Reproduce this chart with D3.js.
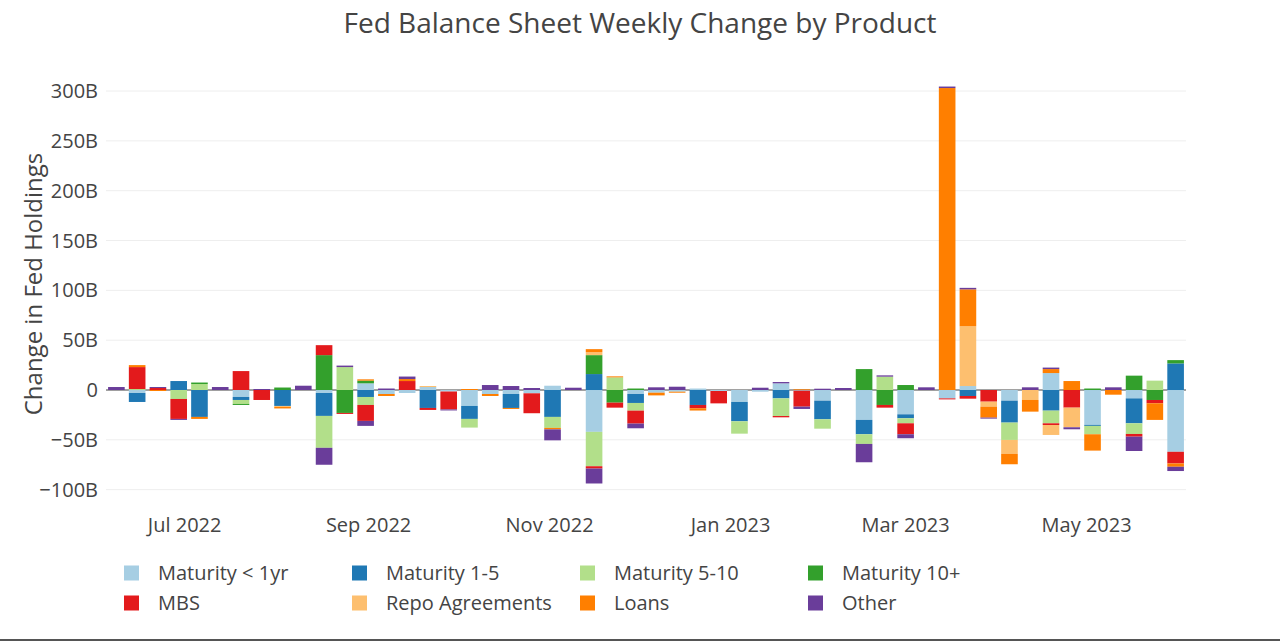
<!DOCTYPE html>
<html>
<head>
<meta charset="utf-8">
<script src="https://cdn.jsdelivr.net/npm/d3@7"></script>
<style>
  html, body { margin: 0; padding: 0; background: #fff; }
  svg { display: block; font-family: "Open Sans", sans-serif; }
</style>
</head>
<body>
<svg id="chart" width="1280" height="641"></svg>
<script>
// ---- DATA ----
const weeks = ["2022-06-08","2022-06-15","2022-06-22","2022-06-29","2022-07-06","2022-07-13","2022-07-20","2022-07-27",
  "2022-08-03","2022-08-10","2022-08-17","2022-08-24","2022-08-31","2022-09-07","2022-09-14","2022-09-21","2022-09-28",
  "2022-10-05","2022-10-12","2022-10-19","2022-10-26","2022-11-02","2022-11-09","2022-11-16","2022-11-23","2022-11-30",
  "2022-12-07","2022-12-14","2022-12-21","2022-12-28","2023-01-04","2023-01-11","2023-01-18","2023-01-25","2023-02-01",
  "2023-02-08","2023-02-15","2023-02-22","2023-03-01","2023-03-08","2023-03-15","2023-03-22","2023-03-29","2023-04-05",
  "2023-04-12","2023-04-19","2023-04-26","2023-05-03","2023-05-10","2023-05-17","2023-05-24","2023-05-31"];

const seriesNames = ["Maturity < 1yr","Maturity 1-5","Maturity 5-10","Maturity 10+","MBS","Repo Agreements","Loans","Other"];
const seriesColors = ["#a6cee3","#1f78b4","#b2df8a","#33a02c","#e31a1c","#fdbf6f","#ff7f00","#6a3d9a"];

const maturityLt1 = [0,-3,0,0,0,0,-7,0,0,0,-3,0,6.7,-4,-3,3,-1.5,-16,-4,-4,-3.3,4.3,0,-42,0,-4,
  -2.7,-1.7,1.5,-1,-12,-1.7,6.7,-0.7,-10.7,0,-30,0,-24.4,0,-8.4,4,0,-10.7,0,17,0,-35,0,-8.4,0,-62];
const maturity1to5 = [0,-9,0,9,-27,0,-3,0,-16,0,-23,0,-7,0,0,-18,0,-13,0,-14,0,-27,0,16,0,-9,
  0,0,-15,0,-19.4,0,-8.4,0,-18.7,0,-14.4,0,-4,0,0,-6,0,-22,0,-20.7,0,-1,0,-25,0,26.7];
const maturity5to10 = [0,1,0,-9,6,0,-4,0,0,0,-32,23,-8,0,0,0,0,-8.7,0,0,0,-11,0,-34.5,12.7,-7.7,
  0,0,0,0,-12.4,0,-17.7,0,-9.4,0,-9.7,13.4,-5,0,0,0,0,-17.4,0,-12.7,0,-8.4,0,-10.7,9.4,0];
const maturity10p = [0,0,0,0,1.5,0,-1,0,2.5,0,35,-23,2.7,0,0,0,0,0,0,0,0,0,0,19,-12.7,1.5,
  0,0,0,0,0,0,0,0,0,0,21,-15,5,0,0,0,0,0,0,0,0,1.5,0,14.4,-10,3.3];
const mbs = [0,22,2,-20,0,0,19,-10,0,0,10,-1,-16,0,9,-2,-18,0,0,0,-20,0,0,-2.3,-5,-13,
  0,0,-3.3,-12.4,0,0,-1.3,-16,0,0,0,-2.7,-11,0,-1,-2.7,-11.7,0,0,-1.7,-17.7,0,0,-2.7,-3.3,-11.7];
const repo = [0,0,0,0,0,0,0,0,-1,0,0,0,0,0,0,1,0,0,0,0,0,0,0,3,0,0,
  0,0,0,0,0,0,0,0,0,0,0,0,0,0,0,60,-5,-14,-10,-10,-19.7,0,0,0,0,0];
const loans = [0,2,-1,0,-2,0,0,0,-1.5,0,0,0,1.3,-2,2,0,0,1,-2,-1,0,-1.5,0,3,1,0,
  -2.7,-1,-2.3,0,0,0,0,0.7,0,0,0,0,0,0,303,37,-11,-10.4,-11.7,4,9,-16.4,-4.7,0,-16.7,-3.3];
const other = [3,0,1,-1,0,3,0,1,0,4.3,-17,1.5,-5,1.5,2.5,0,-1,0,5,4,2,-11,2.3,-15,0,-4.7,
  2.7,3.3,0,0,0,2.3,1.3,-2.3,1.3,2,-18.4,1.3,-4,2.7,1.5,1.5,-1,0,2.7,1.5,-2,0,2.7,-14.4,0,-4.3];

const yTickValues = [-100,-50,0,50,100,150,200,250,300];
const xTickDates = ["2022-07-01","2022-09-01","2022-11-01","2023-01-01","2023-03-01","2023-05-01"];

const titleText = "Fed Balance Sheet Weekly Change by Product";
const yTitleText = "Change in Fed Holdings";

// ---- BUILD ----
const seriesValues = [maturityLt1, maturity1to5, maturity5to10, maturity10p, mbs, repo, loans, other];
const parse = d3.utcParse("%Y-%m-%d");
const dates = weeks.map(parse);
const DAY = 86400000;

const svg = d3.select("#chart");
const W = 1280, H = 641;
const plotLeft = 106, plotRight = 1186;

const x = d3.scaleUtc()
  .domain([new Date(dates[0].getTime() - 3.5 * DAY), new Date(dates[dates.length - 1].getTime() + 3.5 * DAY)])
  .range([plotLeft, plotRight]);
const y = d3.scaleLinear().domain([-120, 320]).range([509.6, 71.1]);

// grid
const grid = svg.append("g");
grid.selectAll("line").data(yTickValues.filter(v => v !== 0)).join("line")
  .attr("x1", plotLeft).attr("x2", plotRight)
  .attr("y1", d => y(d)).attr("y2", d => y(d))
  .attr("stroke", "#eeeeee").attr("stroke-width", 1);

// zero line
svg.append("line")
  .attr("x1", plotLeft).attr("x2", plotRight)
  .attr("y1", y(0)).attr("y2", y(0))
  .attr("stroke", "#444").attr("stroke-width", 1);

// relative stacking
const rects = [];
dates.forEach((dt, i) => {
  let pos = 0, neg = 0;
  seriesValues.forEach((arr, s) => {
    const v = arr[i];
    if (!v) return;
    let y0, y1;
    if (v > 0) { y0 = pos; y1 = pos + v; pos = y1; }
    else { y1 = neg; y0 = neg + v; neg = y0; }
    rects.push({ dt, s, y0, y1 });
  });
});
const halfW = 2.8 * DAY;
const bars = svg.append("g");
seriesValues.forEach((arr, s) => {
  bars.append("g").selectAll("rect").data(rects.filter(r => r.s === s)).join("rect")
    .attr("x", d => x(new Date(d.dt.getTime() - halfW)))
    .attr("width", d => x(new Date(d.dt.getTime() + halfW)) - x(new Date(d.dt.getTime() - halfW)))
    .attr("y", d => y(d.y1))
    .attr("height", d => Math.max(0, y(d.y0) - y(d.y1)))
    .attr("fill", seriesColors[s]);
});

// y axis labels
const fmtY = v => v === 0 ? "0" : (v < 0 ? "\u2212" + Math.abs(v) : v) + "B";
svg.append("g").selectAll("text").data(yTickValues).join("text")
  .attr("x", 98).attr("y", d => y(d)).attr("dy", "0.35em")
  .attr("text-anchor", "end").attr("font-size", 20).attr("fill", "#444")
  .text(fmtY);

// x axis labels
const fmtX = d3.utcFormat("%b %Y");
svg.append("g").selectAll("text").data(xTickDates.map(parse)).join("text")
  .attr("x", d => x(d)).attr("y", 532)
  .attr("text-anchor", "middle").attr("font-size", 20).attr("fill", "#444")
  .text(fmtX);

// title
svg.append("text").attr("x", 640).attr("y", 33).attr("text-anchor", "middle")
  .attr("font-size", 28).attr("fill", "#444").text(titleText);

// y title
svg.append("text").attr("transform", "translate(42,284) rotate(-90)")
  .attr("text-anchor", "middle").attr("font-size", 24).attr("fill", "#444").text(yTitleText);

// legend
const legend = svg.append("g");
seriesNames.forEach((name, i) => {
  const col = i % 4, row = Math.floor(i / 4);
  const gx = 124 + col * 228, gy = 573 + row * 30;
  legend.append("rect").attr("x", gx).attr("y", gy - 7.5).attr("width", 15).attr("height", 15)
    .attr("fill", seriesColors[i]);
  legend.append("text").attr("x", gx + 34).attr("y", gy).attr("dy", "0.35em")
    .attr("font-size", 20).attr("fill", "#444").text(name);
});

// bottom frame edge
svg.append("rect").attr("x", 0).attr("y", 639).attr("width", W).attr("height", 2).attr("fill", "#555");
</script>
</body>
</html>
